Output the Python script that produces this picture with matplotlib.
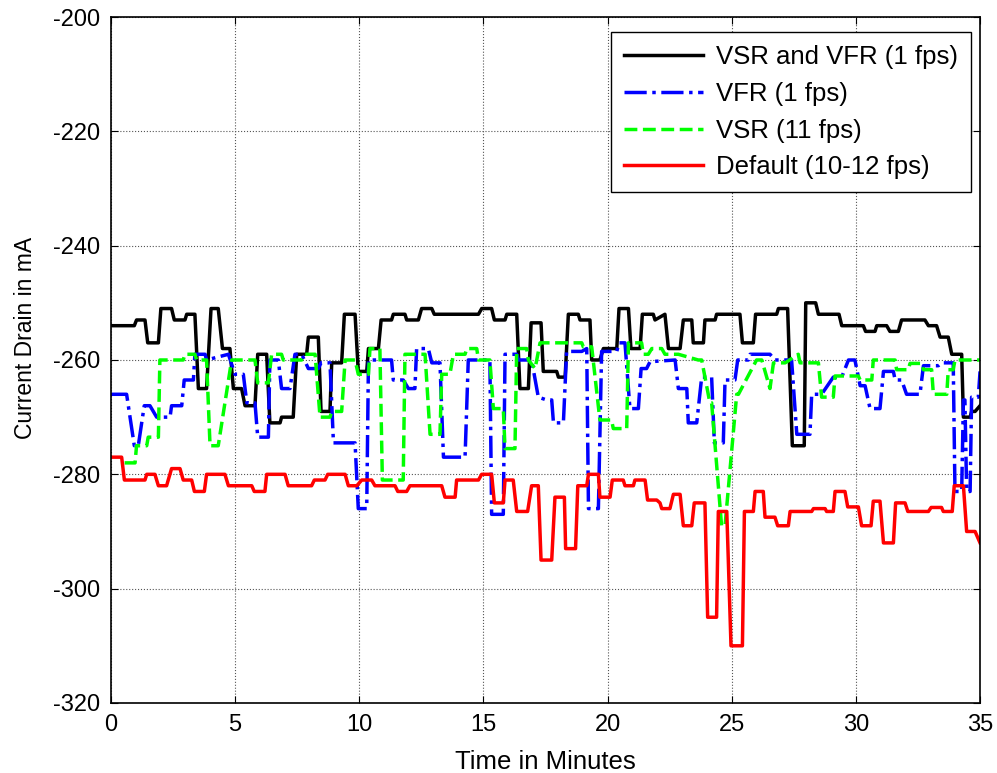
import matplotlib.pyplot as plt

plt.rcParams['font.family'] = ['Liberation Sans', 'DejaVu Sans']
plt.rcParams['axes.unicode_minus'] = False

# VSR and VFR (1 fps) - black
t_both = [0, 0.94, 1.03, 1.37, 1.48, 1.91, 2.01, 2.44, 2.55, 2.98, 3.05, 3.38, 3.52, 3.85, 4.03,
          4.32, 4.49, 4.79, 4.93, 5.26, 5.40, 5.80, 5.91, 6.27, 6.40, 6.81, 6.87, 7.34, 7.48, 7.88,
          7.95, 8.35, 8.46, 8.82, 8.89, 9.29, 9.40, 9.83, 9.96, 10.30, 10.37, 10.77, 10.88, 11.30,
          11.37, 11.84, 11.91, 12.38, 12.51, 12.92, 13.02, 14.80, 14.93, 15.33, 15.44, 15.87, 15.94,
          16.34, 16.47, 16.81, 16.92, 17.32, 17.41, 17.95, 18.02, 18.29, 18.42, 18.82, 18.89, 19.29,
          19.36, 19.69, 19.83, 20.37, 20.46, 20.84, 20.94, 21.31, 21.40, 21.84, 21.91, 22.31, 22.45,
          22.92, 23.05, 23.39, 23.45, 23.86, 23.92, 24.33, 24.39, 25.33, 25.43, 25.87, 25.96, 26.81,
          26.88, 27.25, 27.44, 27.92, 27.98, 28.38, 28.49, 29.32, 29.43, 30.30, 30.39, 30.77, 30.84,
          31.24, 31.37, 31.71, 31.84, 32.78, 32.92, 33.25, 33.39, 33.72, 33.86, 34.26, 34.33, 34.60,
          34.66, 34.80, 35.0]
v_both = [-254, -254, -253, -253, -257, -257, -251, -251, -253, -253, -252, -252, -265, -265, -251,
          -251, -258, -258, -265, -265, -268, -268, -259, -259, -271, -271, -270, -270, -259, -259,
          -256, -256, -269, -269, -260.5, -260.5, -252, -252, -262, -262, -258, -258, -253, -253,
          -252, -252, -253, -253, -251, -251, -252, -252, -251, -251, -253, -253, -252,
          -252, -265, -265, -253.5, -253.5, -262, -262, -263, -263, -252, -252, -253, -253,
          -260, -260, -258, -258, -251, -251, -258, -258, -252, -252, -253, -252, -258,
          -258, -253, -253, -257, -257, -253, -253, -252, -252, -257, -257, -252, -252,
          -251, -251, -275, -275, -250, -250, -252, -252, -254, -254, -255, -255, -254,
          -254, -255, -255, -253, -253, -254, -254, -256, -256, -259, -259, -270, -270,
          -269, -269, -268]

# VFR (1 fps) - blue
t_vfr = [0, 0.63, 0.94, 1.10, 1.34, 1.57, 1.84, 2.38, 2.44, 2.85, 2.95, 3.32, 3.38, 3.79, 3.85,
         4.73, 4.99, 5.33, 5.47, 5.80, 5.91, 6.34, 6.40, 6.74, 6.87, 7.21, 7.41, 7.68, 7.95, 8.35,
         8.46, 8.82, 8.96, 9.83, 9.96, 10.30, 10.37, 11.30, 11.37, 11.77, 11.98, 12.24, 12.31,
         12.78, 12.92, 13.25, 13.39, 14.26, 14.39, 15.26, 15.33, 15.80, 15.87, 16.34, 16.41, 16.94,
         17.21, 17.55, 17.75, 17.82, 18.22, 18.35, 18.96, 19.16, 19.23, 19.63, 19.76, 20.37, 20.46,
         20.70, 20.90, 21.24, 21.35, 21.57, 21.71, 22.72, 22.85, 23.19, 23.25, 23.59, 23.79, 24.19,
         24.30, 24.66, 24.73, 25.13, 25.24, 25.67, 25.74, 26.54, 26.74, 27.41, 27.62, 28.15, 28.22,
         28.62, 29.09, 29.43, 29.70, 29.96, 30.17, 30.37, 30.57, 30.97, 31.11, 31.51, 31.58, 31.84,
         32.04, 32.58, 32.72, 33.32, 33.45, 33.92, 33.99, 34.26, 34.33, 34.39, 34.46, 34.60, 34.66,
         34.93, 35.0]
v_vfr = [-266, -266, -275, -275, -268, -268, -270, -270, -268, -268, -263.5, -263.5, -259, -259, -260,
         -259, -262.5, -262.5, -267.5, -267.5, -273.5, -273.5, -260, -260, -265, -265, -259, -259,
         -261.5, -261.5, -260.5, -260.5, -274.5, -274.5, -286, -286, -260, -260, -263.5, -263.5,
         -265, -265, -258, -258, -260.5, -260.5, -277, -277, -260, -260, -287, -287, -259, -259,
         -260, -260, -266.5, -267, -267, -271, -271, -258.5, -258.5, -258, -286, -286, -258.5,
         -258.5, -257, -257, -268.5, -268.5, -261.5, -261.5, -260.3, -260, -265, -265, -271, -271,
         -263, -263, -274.5, -274.5, -263.5, -263.5, -260, -260, -259, -259, -260, -260, -273,
         -273, -266, -266, -263, -263, -260, -260, -264.5, -264.5, -268.5, -268.5, -262, -262,
         -263.5, -263.5, -266, -266, -261, -261, -260.5, -260.5, -283, -283, -267, -267, -283,
         -283, -266.5, -266.5, -262]

# VSR (11 fps) - green
t_vsr = [0.55, 0.97, 1.03, 1.44, 1.50, 1.91, 1.97, 2.91, 2.98, 3.38, 3.45, 3.85, 3.99, 4.32, 4.86,
         5.80, 5.91, 6.34, 6.47, 6.87, 6.94, 7.68, 7.81, 8.22, 8.42, 8.82, 8.89, 9.29, 9.43, 9.83,
         9.96, 10.37, 10.43, 10.83, 10.93, 11.77, 11.84, 12.65, 12.85, 13.25, 13.32, 13.65, 13.79,
         14.26, 14.33, 14.73, 14.80, 15.26, 15.40, 15.80, 15.87, 16.27, 16.34, 16.74, 16.81, 17.08,
         17.28, 18.96, 19.02, 19.36, 19.69, 20.16, 20.23, 20.77, 20.84, 21.37, 21.44, 21.64, 21.78,
         22.18, 22.31, 22.85, 23.65, 23.79, 24.12, 24.19, 24.59, 24.73, 25.20, 25.27, 26.00, 26.21,
         26.54, 26.68, 27.15, 27.68, 27.75, 28.49, 28.62, 29.09, 29.16, 30.10, 30.17, 30.64, 30.70,
         31.58, 31.64, 32.11, 32.18, 32.65, 32.72, 33.05, 33.12, 33.66, 33.72, 33.92, 33.99, 35.0]
v_vsr = [-278, -278, -275, -275, -273.5, -273.5, -260, -260, -259, -259, -260, -260, -275, -275,
         -260, -260, -264, -264, -259, -259, -260, -260, -259, -259, -270, -270, -269, -269, -260,
         -260, -262.5, -262.5, -258, -258, -281, -281, -259, -259, -273, -273, -262.5, -262.5, -259,
         -259, -258, -258, -260, -260, -268.5, -268.5, -275.5, -275.5, -258, -258, -260, -261.5,
         -257, -257, -257.7, -257.7, -270.5, -270.5, -272, -272, -257, -257, -259, -259, -258,
         -258, -259, -259, -260, -260, -267.5, -267.5, -289, -289, -266, -266, -260, -260,
         -265, -260.5, -260.5, -259, -260.5, -260.5, -266.5, -266.5, -262.8, -262.8, -263.5, -263.5,
         -260, -260, -261.7, -261.7, -260.6, -260.6, -261.7, -261.7, -266, -266, -261.7, -261.7,
         -260, -260]

# Default (10-12 fps) - red
t_def = [0, 0.43, 0.54, 1.37, 1.44, 1.77, 1.91, 2.24, 2.44, 2.78, 2.91, 3.25, 3.36, 3.76, 3.85,
         4.59, 4.73, 5.67, 5.77, 6.20, 6.27, 7.01, 7.14, 8.08, 8.19, 8.62, 8.73, 9.43, 9.56, 9.90,
         10.10, 10.50, 10.63, 11.44, 11.55, 11.91, 12.04, 13.32, 13.45, 13.86, 13.92, 14.80, 14.93,
         15.33, 15.44, 15.80, 15.87, 16.20, 16.34, 16.78, 16.94, 17.21, 17.32, 17.75, 17.88, 18.26,
         18.31, 18.71, 18.80, 19.16, 19.23, 19.63, 19.69, 20.10, 20.19, 20.63, 20.70, 21.04, 21.10,
         21.51, 21.61, 21.98, 22.11, 22.18, 22.51, 22.65, 22.92, 23.05, 23.39, 23.49, 23.92, 24.03,
         24.39, 24.46, 24.80, 24.97, 25.43, 25.51, 25.87, 25.94, 26.27, 26.34, 26.74, 26.85, 27.28,
         27.35, 28.22, 28.29, 28.76, 28.82, 29.09, 29.16, 29.56, 29.67, 30.10, 30.23, 30.61, 30.70,
         30.97, 31.11, 31.51, 31.60, 31.98, 32.09, 32.92, 33.03, 33.45, 33.52, 33.88, 33.96, 34.33,
         34.46, 34.80, 35.0]
v_def = [-277, -277, -281, -281, -280, -280, -282, -282, -279, -279, -281, -281, -283, -283, -280,
         -280, -282, -282, -283, -283, -280, -280, -282, -282, -281, -281, -280, -280, -282, -282,
         -281, -281, -282, -282, -283, -283, -282, -282, -284, -284, -281, -281, -280,
         -280, -285, -285, -281, -281, -286.5, -286.5, -282, -282, -295, -295, -284, -284,
         -293, -293, -282, -282, -280, -280, -284, -284, -281, -281, -282, -282, -281,
         -281, -284.5, -284.5, -285, -286, -286, -283.5, -283.5, -289, -289, -285, -285, -305,
         -305, -286.5, -286.5, -310, -310, -286.5, -286.5, -283, -283, -287.5, -287.5, -289, -289,
         -286.5, -286.5, -286, -286, -286.5, -286.5, -283, -283, -285.7, -285.7, -289, -289, -284.7,
         -284.7, -292, -292, -285, -285, -286.5, -286.5, -285.8, -285.8, -286.5, -286.5, -282, -282,
         -290, -290, -292]

fig = plt.figure(figsize=(9.97, 7.73), dpi=100)
ax = fig.add_axes([0.1113, 0.0906, 0.8717, 0.8874])

ax.plot(t_both, v_both, color='k', lw=2.5, label='VSR and VFR (1 fps)')
ax.plot(t_vfr, v_vfr, color='#0000ff', lw=2.5, ls='-.', label='VFR (1 fps)')
ax.plot(t_vsr, v_vsr, color='#00ff00', lw=2.5, ls='--', label='VSR (11 fps)')
ax.plot(t_def, v_def, color='#ff0000', lw=2.5, label='Default (10-12 fps)')

ax.set_xlim(0, 35)
ax.set_ylim(-320, -200)
ax.set_xticks(range(0, 36, 5))
ax.set_yticks(range(-320, -199, 20))
ax.grid(True, color='#555555', ls=':', lw=0.8)
ax.tick_params(direction='in', top=True, right=True, labelsize=17, length=5, pad=8)
for s in ax.spines.values():
    s.set_linewidth(1.2)
ax.set_xlabel('Time in Minutes', fontsize=18.5, labelpad=10)
ax.set_ylabel('Current Drain in mA', fontsize=16.5)
ax.yaxis.set_label_coords(-0.085, 0.532)

leg = ax.legend(loc='upper right', bbox_to_anchor=(971 / 997, 1 - 32 / 773),
                bbox_transform=fig.transFigure, borderaxespad=0, fontsize=18.5,
                handlelength=3.1, handletextpad=0.5, fancybox=False, edgecolor='k',
                framealpha=1, borderpad=0.5, labelspacing=0.5)
leg.get_frame().set_linewidth(1.0)

fig.savefig('out.png', dpi=100)
